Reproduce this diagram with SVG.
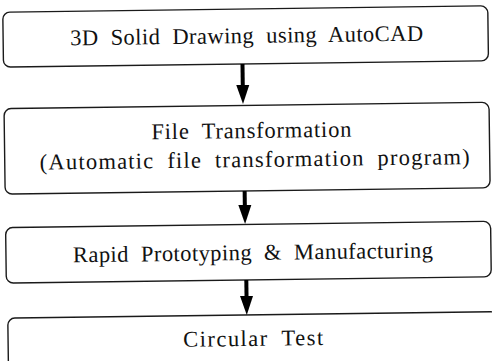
<svg xmlns="http://www.w3.org/2000/svg" width="492" height="361" viewBox="0 0 492 361">
  <style>
    .box { fill: #ffffff; stroke: #1a1a1a; stroke-width: 1.4; }
    .label { font-size: 22.5px; fill: #111111; text-anchor: middle; word-spacing: 6px; }
    .shaft { stroke: #000000; stroke-width: 4; }
    .head { fill: #000000; }
  </style>
  <rect width="492" height="361" fill="#ffffff"/>
  <g transform="rotate(-0.75 246 180)" font-family="Liberation Serif, serif">
    <g id="node-drawing">
      <rect class="box" x="5" y="9" width="485" height="55" rx="7"/>
      <text class="label" x="248.5" y="43" textLength="353" lengthAdjust="spacing">3D Solid Drawing using AutoCAD</text>
    </g>
    <g id="node-transform">
      <rect class="box" x="5" y="105.5" width="485" height="85.5" rx="7"/>
      <text class="label" x="252" y="138" textLength="200" lengthAdjust="spacing">File Transformation</text>
      <text class="label" x="255" y="167" textLength="430" lengthAdjust="spacing">(Automatic file transformation program)</text>
    </g>
    <g id="node-prototyping">
      <rect class="box" x="5" y="224.5" width="485" height="55.5" rx="7"/>
      <text class="label" x="252" y="260" textLength="360" lengthAdjust="spacing">Rapid Prototyping &amp; Manufacturing</text>
    </g>
    <g id="node-test">
      <rect class="box" x="6" y="315" width="490" height="70" rx="7"/>
      <text class="label" x="251" y="346" textLength="140" lengthAdjust="spacing">Circular Test</text>
    </g>
    <g id="connectors">
      <line class="shaft" x1="244" y1="64" x2="244" y2="86"/>
      <polygon class="head" points="237.5,85 250.5,85 244,104"/>
      <line class="shaft" x1="244.5" y1="191" x2="244.5" y2="206"/>
      <polygon class="head" points="238,205 251,205 244.5,224"/>
      <line class="shaft" x1="245" y1="280" x2="245" y2="297"/>
      <polygon class="head" points="238.5,296 251.5,296 245,315"/>
    </g>
  </g>
</svg>
